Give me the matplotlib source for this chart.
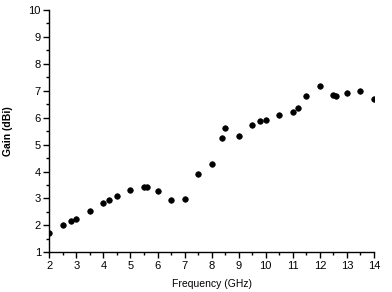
import matplotlib
matplotlib.use('Agg')
import matplotlib.pyplot as plt
from matplotlib.ticker import MultipleLocator

# measured gain vs frequency
freq = [2.0, 2.5, 2.8, 3.0, 3.5, 4.0, 4.2, 4.5, 5.0, 5.5, 5.6, 6.0, 6.5, 7.0,
        7.5, 8.0, 8.4, 8.5, 9.0, 9.5, 9.8, 10.0, 10.5, 11.0, 11.2, 11.5, 12.0,
        12.5, 12.6, 13.0, 13.5, 14.0]
gain = [1.73, 2.01, 2.16, 2.25, 2.53, 2.84, 2.94, 3.10, 3.33, 3.43, 3.43, 3.29,
        2.96, 2.99, 3.89, 4.29, 5.26, 5.60, 5.30, 5.71, 5.86, 5.93, 6.08, 6.20,
        6.34, 6.82, 7.19, 6.84, 6.82, 6.93, 7.00, 6.71]

plt.rcParams['font.family'] = ['Liberation Sans', 'DejaVu Sans']

fig = plt.figure(figsize=(3.92, 2.92), dpi=100)
ax = fig.add_axes([0.1257, 0.136, 0.8283, 0.830])

ax.plot(freq, gain, linestyle='none', marker='o', markersize=4.0,
        markeredgewidth=0.5, color='black')

ax.set_xlim(2, 14)
ax.set_ylim(1, 10)
ax.xaxis.set_major_locator(MultipleLocator(1))
ax.xaxis.set_minor_locator(MultipleLocator(0.5))
ax.yaxis.set_major_locator(MultipleLocator(1))
ax.yaxis.set_minor_locator(MultipleLocator(0.5))

ax.spines['top'].set_visible(False)
ax.spines['right'].set_visible(False)
for s in ('left', 'bottom'):
    ax.spines[s].set_linewidth(1.0)

ax.tick_params(which='major', direction='out', length=4, width=1,
               labelsize=8, pad=2)
ax.tick_params(which='minor', direction='out', length=2.5, width=1)

ax.set_xlabel('Frequency (GHz)', fontsize=7.5, labelpad=6)
ax.set_ylabel('Gain (dBi)', fontsize=7.5, fontweight='bold', labelpad=11)

fig.savefig('out.png', dpi=100)
